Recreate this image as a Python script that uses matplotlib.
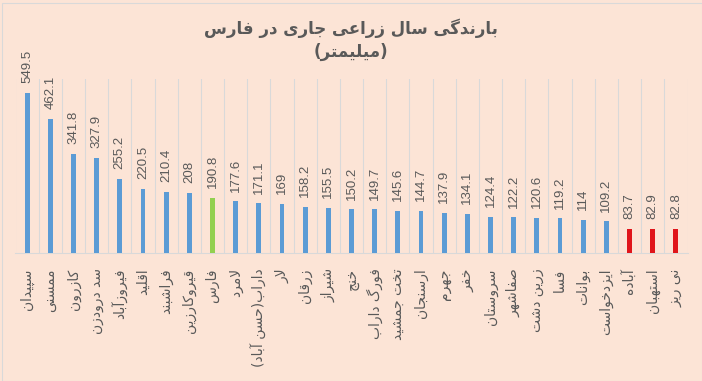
import matplotlib
matplotlib.use("Agg")
import matplotlib.pyplot as plt
from matplotlib.patches import Rectangle

# ---------------- data ----------------
categories = ["سپیدان", "ممسنی", "کازرون", "سد درودزن", "فیروزآباد", "اقلید",
              "فراشبند", "قیروکارزین", "فارس", "لامرد", "داراب(حسن آباد)", "لار",
              "زرقان", "شیراز", "خنج", "فورگ داراب", "تخت جمشید", "ارسنجان",
              "جهرم", "خفر", "سروستان", "صفاشهر", "زرین دشت", "فسا", "بوانات",
              "ایزدخواست", "آباده", "استهبان", "نی ریز"]
values = [549.5, 462.1, 341.8, 327.9, 255.2, 220.5, 210.4, 208, 190.8, 177.6,
          171.1, 169, 158.2, 155.5, 150.2, 149.7, 145.6, 144.7, 137.9, 134.1,
          124.4, 122.2, 120.6, 119.2, 114, 109.2, 83.7, 82.9, 82.8]
value_labels = ["549.5", "462.1", "341.8", "327.9", "255.2", "220.5", "210.4", "208",
                "190.8", "177.6", "171.1", "169", "158.2", "155.5", "150.2", "149.7",
                "145.6", "144.7", "137.9", "134.1", "124.4", "122.2", "120.6", "119.2",
                "114", "109.2", "83.7", "82.9", "82.8"]
title_line1 = "بارندگی سال زراعی جاری در فارس"
title_line2 = "(میلیمتر)"

green_names = {"فارس"}
red_names = {"آباده", "استهبان", "نی ریز"}

# ---------------- minimal Persian shaping ----------------
FORMS = {
    'ا': (0xFE8D, 0xFE8E, None, None), 'آ': (0xFE81, 0xFE82, None, None),
    'ب': (0xFE8F, 0xFE90, 0xFE91, 0xFE92), 'پ': (0xFB56, 0xFB57, 0xFB58, 0xFB59),
    'ت': (0xFE95, 0xFE96, 0xFE97, 0xFE98), 'ث': (0xFE99, 0xFE9A, 0xFE9B, 0xFE9C),
    'ج': (0xFE9D, 0xFE9E, 0xFE9F, 0xFEA0), 'چ': (0xFB7A, 0xFB7B, 0xFB7C, 0xFB7D),
    'ح': (0xFEA1, 0xFEA2, 0xFEA3, 0xFEA4), 'خ': (0xFEA5, 0xFEA6, 0xFEA7, 0xFEA8),
    'د': (0xFEA9, 0xFEAA, None, None), 'ذ': (0xFEAB, 0xFEAC, None, None),
    'ر': (0xFEAD, 0xFEAE, None, None), 'ز': (0xFEAF, 0xFEB0, None, None),
    'ژ': (0xFB8A, 0xFB8B, None, None),
    'س': (0xFEB1, 0xFEB2, 0xFEB3, 0xFEB4), 'ش': (0xFEB5, 0xFEB6, 0xFEB7, 0xFEB8),
    'ص': (0xFEB9, 0xFEBA, 0xFEBB, 0xFEBC), 'ض': (0xFEBD, 0xFEBE, 0xFEBF, 0xFEC0),
    'ط': (0xFEC1, 0xFEC2, 0xFEC3, 0xFEC4), 'ظ': (0xFEC5, 0xFEC6, 0xFEC7, 0xFEC8),
    'ع': (0xFEC9, 0xFECA, 0xFECB, 0xFECC), 'غ': (0xFECD, 0xFECE, 0xFECF, 0xFED0),
    'ف': (0xFED1, 0xFED2, 0xFED3, 0xFED4), 'ق': (0xFED5, 0xFED6, 0xFED7, 0xFED8),
    'ک': (0xFB8E, 0xFB8F, 0xFB90, 0xFB91), 'گ': (0xFB92, 0xFB93, 0xFB94, 0xFB95),
    'ل': (0xFEDD, 0xFEDE, 0xFEDF, 0xFEE0), 'م': (0xFEE1, 0xFEE2, 0xFEE3, 0xFEE4),
    'ن': (0xFEE5, 0xFEE6, 0xFEE7, 0xFEE8), 'و': (0xFEED, 0xFEEE, None, None),
    'ه': (0xFEE9, 0xFEEA, 0xFEEB, 0xFEEC), 'ی': (0xFBFC, 0xFBFD, 0xFBFE, 0xFBFF),
}
LAM_ALEF = {'ا': (0xFEFB, 0xFEFC), 'آ': (0xFEF5, 0xFEF6)}
MIRROR = {'(': ')', ')': '('}


def dual(c):
    return c in FORMS and FORMS[c][2] is not None


def shape(text):
    out = []
    i = 0
    n = len(text)
    while i < n:
        c = text[i]
        prev = text[i - 1] if i > 0 else ''
        if c not in FORMS:
            out.append(c)
            i += 1
            continue
        join_prev = dual(prev)
        if c == 'ل' and i + 1 < n and text[i + 1] in LAM_ALEF:
            iso, fin = LAM_ALEF[text[i + 1]]
            out.append(chr(fin if join_prev else iso))
            i += 2
            continue
        nxt = text[i + 1] if i + 1 < n else ''
        join_next = dual(c) and nxt in FORMS
        iso, fin, ini, med = FORMS[c]
        if join_prev and join_next:
            code = med
        elif join_prev:
            code = fin
        elif join_next:
            code = ini
        else:
            code = iso
        out.append(chr(code))
        i += 1
    return ''.join(MIRROR.get(ch, ch) for ch in reversed(out))


# ---------------- figure ----------------
BG = "#FCE4D6"
TXT = "#595959"
W, H = 702, 381
fig = plt.figure(figsize=(W / 100, H / 100), dpi=100, facecolor=BG)

ax_left, ax_right = 15.5, 687.5
ax_top, ax_bot = 78.5, 253
ax = fig.add_axes([ax_left / W, 1 - ax_bot / H, (ax_right - ax_left) / W, (ax_bot - ax_top) / H])
ax.set_facecolor(BG)

x = list(range(len(categories)))
colors = []
for name in categories:
    if name in green_names:
        colors.append("#92D050")
    elif name in red_names:
        colors.append("#E0151B")
    else:
        colors.append("#5B9BD5")

ax.bar(x, values, width=0.21, color=colors, zorder=3)
ax.set_xlim(-0.5, len(categories) - 0.5)
ax.set_ylim(0, 600)

for xi, v, lab in zip(x, values, value_labels):
    ax.annotate(lab, (xi, v), xytext=(0, 7), textcoords="offset points",
                rotation=90, ha="center", va="bottom", fontsize=9.5,
                family="Liberation Sans", color=TXT, annotation_clip=False)

ax.set_xticks(x)
ax.set_xticklabels([shape(c) for c in categories], rotation=90, fontsize=10,
                   color=TXT, family="DejaVu Sans")
ax.tick_params(axis="x", length=0, pad=11)
ax.set_xticks([i - 0.5 for i in range(len(categories) + 1)], minor=True)
ax.tick_params(axis="x", which="minor", length=0)
ax.grid(axis="x", which="minor", color="#D9D9D9", linewidth=0.8, zorder=0)
ax.set_yticks([])
for s in ["top", "left", "right"]:
    ax.spines[s].set_visible(False)
ax.spines["bottom"].set_color("#D9D9D9")
ax.spines["bottom"].set_linewidth(0.8)

fig.text(0.5, 1 - 28 / H, shape(title_line1), ha="center", va="center",
         fontsize=12, fontweight="bold", color=TXT, family="DejaVu Sans")
fig.text(0.5, 1 - 52 / H, shape(title_line2), ha="center", va="center",
         fontsize=12, fontweight="bold", color=TXT, family="DejaVu Sans")

# outer border of chart area
fig.patches.append(Rectangle((2 / W, 0), 1 - 2 / W, 1 - 3 / H, transform=fig.transFigure,
                             fill=False, edgecolor="#D9D9D9", linewidth=0.8))

fig.savefig("out.png", dpi=100, facecolor=BG)
